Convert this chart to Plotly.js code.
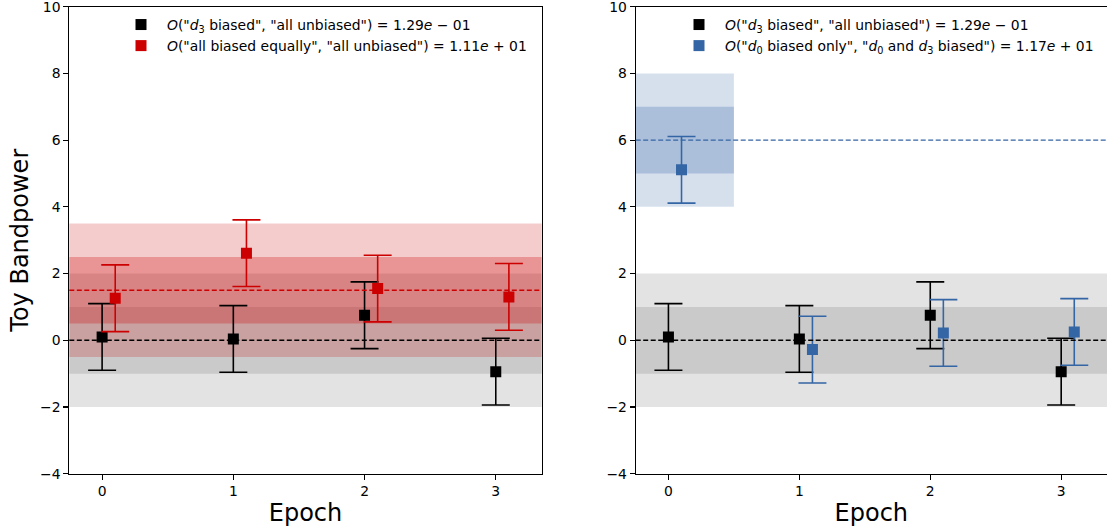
<!DOCTYPE html>
<html>
<head>
<meta charset="utf-8">
<script src="https://cdn.plot.ly/plotly-3.0.1.min.js"></script>
<style>
  html, body { margin: 0; padding: 0; background: #fff; }
  #chart { width: 1107px; height: 531px; }
</style>
</head>
<body>
<div id="chart"></div>
<script>
// ---- data ----
const epochs = [0, 1, 2, 3];
const epochTickLabels = ['0', '1', '2', '3'];
const d3BiasedVsUnbiased = [0.10, 0.04, 0.75, -0.94];
const d3BiasedErr = [1, 1, 1, 1];
const allBiasedEqually = [1.26, 2.61, 1.55, 1.30];
const allBiasedErr = [1, 1, 1, 1];
const d0BiasedOnly = [5.11, -0.28, 0.22, 0.25];
const d0BiasedErr = [1, 1, 1, 1];
const unbiasedRef = 0;        // black dashed reference
const allBiasedRef = 1.5;     // red dashed reference
const d0BiasedRef = 6;        // blue dashed reference
const bandSigmas = [2, 1];    // outer then inner band half-widths
const d0BandEpochs = [-0.25, 0.5];
const yTickVals = [-4, -2, 0, 2, 4, 6, 8, 10];
const yTickLabels = ['\u22124', '\u22122', '0', '2', '4', '6', '8', '10'];
const legendLabelsLeft = [
  '<i>O</i>("<i>d</i><sub>3</sub> biased", "all unbiased") = 1.29<i>e</i> \u2212 01',
  '<i>O</i>("all biased equally", "all unbiased") = 1.11<i>e</i> + 01'
];
const legendLabelsRight = [
  '<i>O</i>("<i>d</i><sub>3</sub> biased", "all unbiased") = 1.29<i>e</i> \u2212 01',
  '<i>O</i>("<i>d</i><sub>0</sub> biased only", "<i>d</i><sub>0</sub> and <i>d</i><sub>3</sub> biased") = 1.17<i>e</i> + 01'
];

// ---- style ----
const BLACK = '#000000';
const RED = '#cc0000';
const BLUE = '#3465a4';
const offset = 0.1;
const FONT = 'DejaVu Sans, Liberation Sans, sans-serif';
const W = 1107, H = 531;

function shift(arr, d) { return arr.map(v => v + d); }

function ebTrace(x, y, err, color, xa, ya, name, legend) {
  return {
    type: 'scatter', mode: 'markers', x: x, y: y,
    xaxis: xa, yaxis: ya, name: name, legend: legend,
    marker: { symbol: 'square', size: 11, color: color },
    error_y: { type: 'data', array: err, visible: true, color: color, thickness: 1.6, width: 14 },
    hoverinfo: 'x+y'
  };
}

const traces = [
  ebTrace(epochs, d3BiasedVsUnbiased, d3BiasedErr, BLACK, 'x', 'y', legendLabelsLeft[0], 'legend'),
  ebTrace(shift(epochs, offset), allBiasedEqually, allBiasedErr, RED, 'x', 'y', legendLabelsLeft[1], 'legend'),
  ebTrace(epochs, d3BiasedVsUnbiased, d3BiasedErr, BLACK, 'x2', 'y2', legendLabelsRight[0], 'legend2'),
  ebTrace(shift(epochs, offset), d0BiasedOnly, d0BiasedErr, BLUE, 'x2', 'y2', legendLabelsRight[1], 'legend2')
];

const shapes = [];
function bands(xref, yref, center, fillOuter, fillInner, x0, x1) {
  const fills = [fillOuter, fillInner];
  bandSigmas.forEach((s, i) => {
    shapes.push({
      type: 'rect', layer: 'below', xref: xref, yref: yref,
      x0: x0, x1: x1, y0: center - s, y1: center + s,
      fillcolor: fills[i], line: { width: 0 }
    });
  });
}
function hline(xref, yref, yv, color) {
  shapes.push({
    type: 'line', layer: 'above', xref: xref, yref: yref,
    x0: 0, x1: 1, y0: yv, y1: yv,
    line: { color: color, width: 1.4, dash: '5px,2.5px' }
  });
}
const GRAY_A = 'rgba(0,0,0,0.108)';
// left panel
bands('x domain', 'y', unbiasedRef, GRAY_A, GRAY_A, 0, 1);
bands('x domain', 'y', allBiasedRef, 'rgba(204,0,0,0.2)', 'rgba(204,0,0,0.265)', 0, 1);
// right panel
bands('x2 domain', 'y2', unbiasedRef, GRAY_A, GRAY_A, 0, 1);
bands('x2', 'y2', d0BiasedRef, 'rgba(52,101,164,0.2)', 'rgba(52,101,164,0.265)', d0BandEpochs[0], d0BandEpochs[1]);
hline('x domain', 'y', allBiasedRef, RED);
hline('x domain', 'y', unbiasedRef, BLACK);
hline('x2 domain', 'y2', d0BiasedRef, BLUE);
hline('x2 domain', 'y2', unbiasedRef, BLACK);

const tickFont = { family: FONT, size: 13.9, color: '#000' };
function xAxis(domain, anchor) {
  return {
    domain: domain, anchor: anchor, range: [-0.25, 3.35],
    tickmode: 'array', tickvals: epochs, ticktext: epochTickLabels,
    ticks: 'outside', ticklen: 4.9, tickwidth: 1.1, tickcolor: '#000',
    showline: true, mirror: true, linecolor: '#000', linewidth: 1.1,
    showgrid: false, zeroline: false, tickfont: tickFont,
    ticklabeloverflow: 'allow',
    title: { text: 'Epoch', font: { family: FONT, size: 24, color: '#000' }, standoff: 5 }
  };
}
function yAxis(anchor, withTitle) {
  const ax = {
    domain: [1 - 473.7 / H, 1 - 6.7 / H], anchor: anchor, range: [-4, 10],
    tickmode: 'array', tickvals: yTickVals, ticktext: yTickLabels,
    ticks: 'outside', ticklen: 4.9, tickwidth: 1.1, tickcolor: '#000',
    showline: true, mirror: true, linecolor: '#000', linewidth: 1.1,
    showgrid: false, zeroline: false, tickfont: tickFont,
    ticklabeloverflow: 'allow'
  };
  if (withTitle) ax.title = { text: 'Toy Bandpower', font: { family: FONT, size: 24, color: '#000' }, standoff: 4 };
  return ax;
}

const legendFont = { family: FONT, size: 13.9, color: '#000' };
const layout = {
  width: W, height: H,
  margin: { l: 0, r: 0, t: 0, b: 0, pad: 0 },
  paper_bgcolor: '#fff', plot_bgcolor: '#fff',
  showlegend: true,
  xaxis: xAxis([69.3 / W, 541.7 / W], 'y'),
  yaxis: yAxis('x', true),
  xaxis2: xAxis([635.7 / W, 1], 'y2'),
  yaxis2: yAxis('x2', false),
  legend: {
    x: 115 / W, y: 1 - 9 / H, xanchor: 'left', yanchor: 'top',
    bgcolor: 'rgba(0,0,0,0)', borderwidth: 0, font: legendFont, tracegroupgap: 0,
    itemwidth: 42
  },
  legend2: {
    x: 673 / W, y: 1 - 9 / H, xanchor: 'left', yanchor: 'top',
    bgcolor: 'rgba(0,0,0,0)', borderwidth: 0, font: legendFont, tracegroupgap: 0,
    itemwidth: 42
  },
  shapes: shapes
};

Plotly.newPlot('chart', traces, layout, { displayModeBar: false, staticPlot: true });
</script>
</body>
</html>
